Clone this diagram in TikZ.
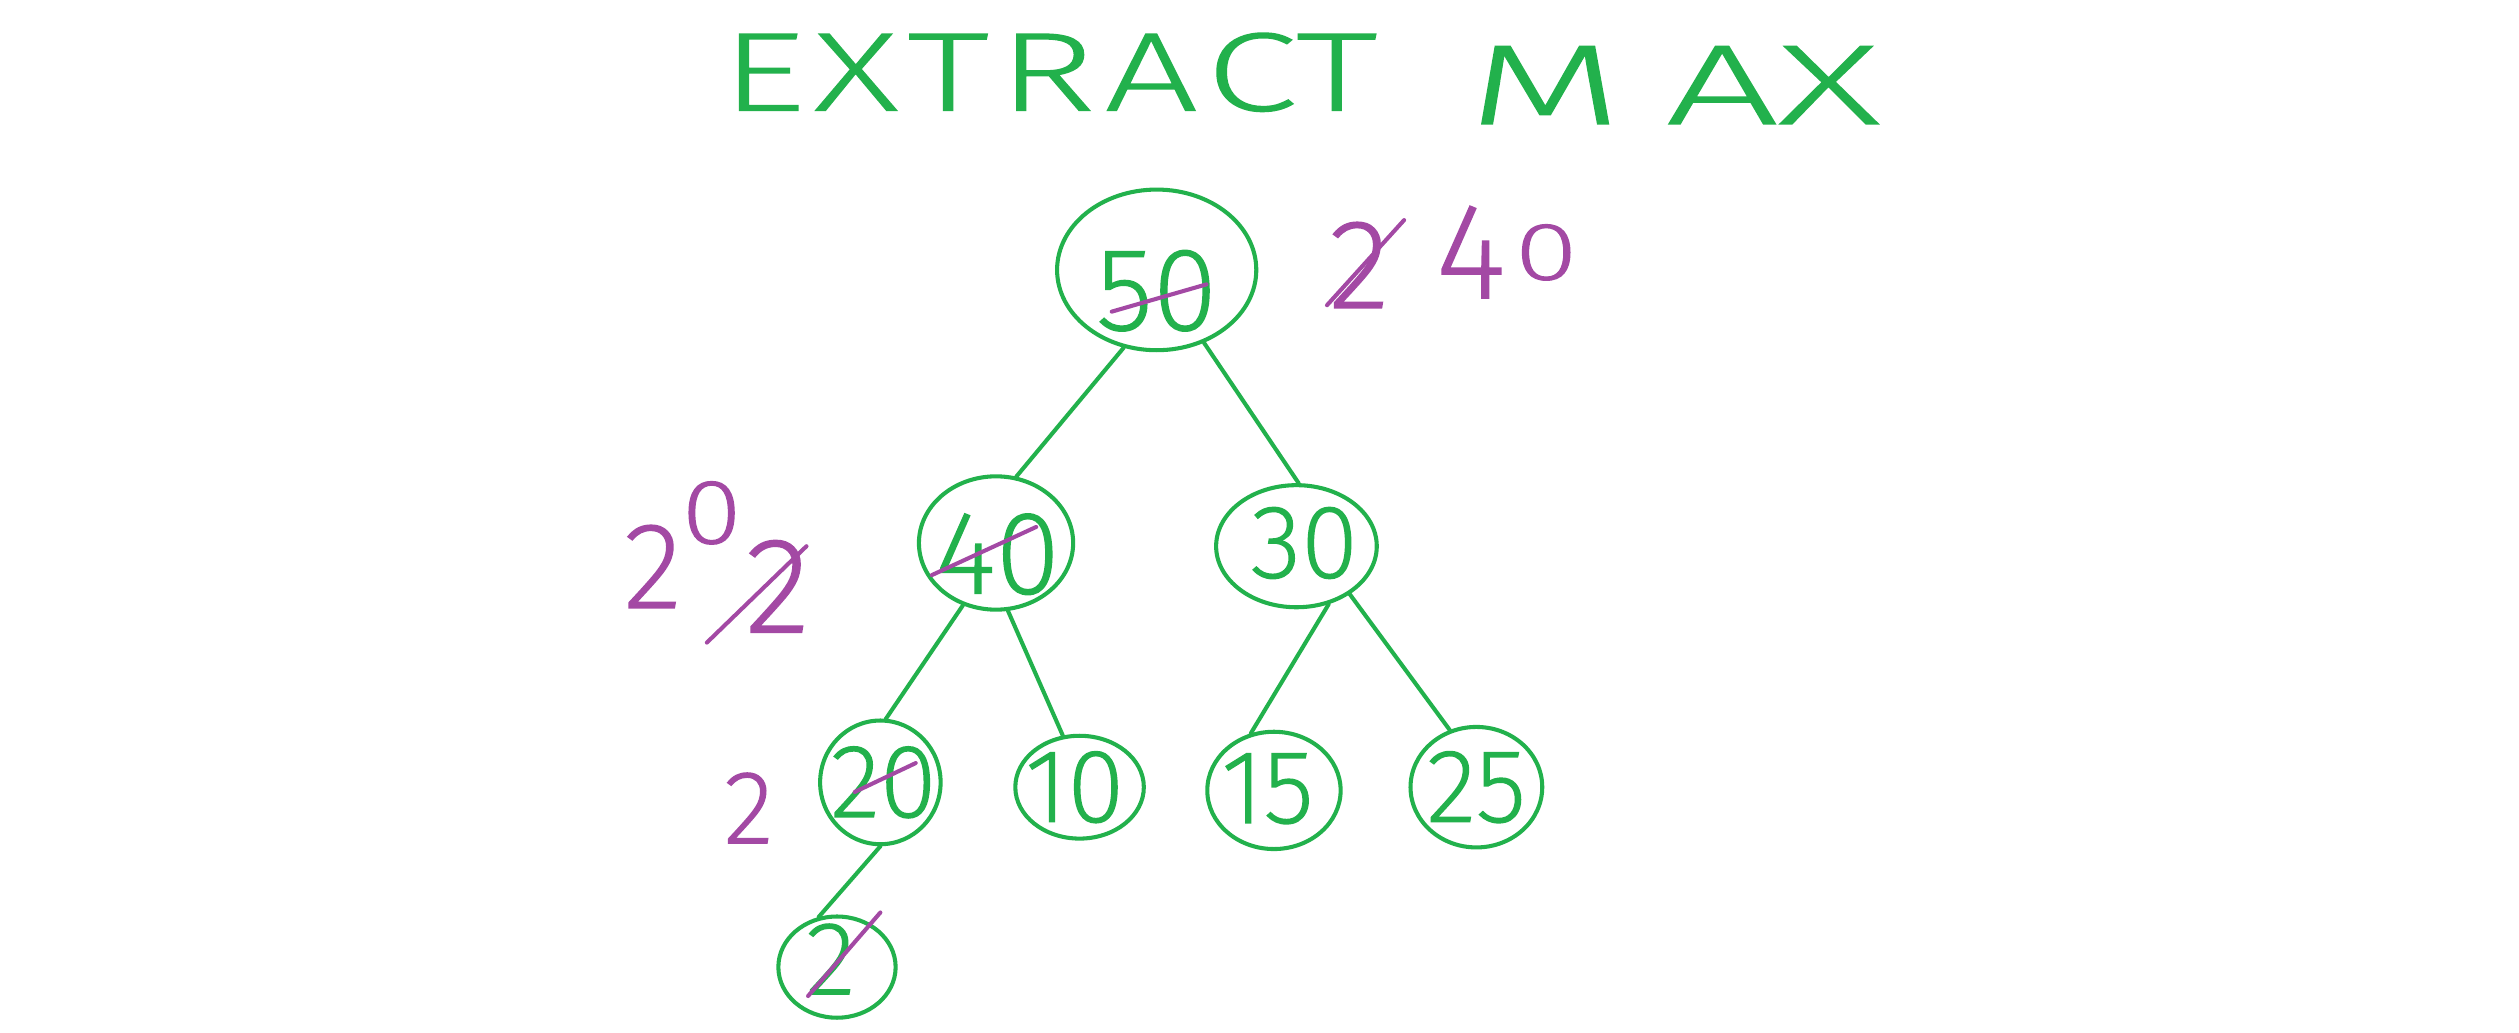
\documentclass[tikz,border=0pt]{standalone}
\usepackage{fontspec}
\setmainfont{Fira Sans ExtraLight}[FakeBold=1.5]
\usetikzlibrary{shapes.geometric}
\definecolor{penGreen}{RGB}{34,177,76}
\definecolor{penPurple}{RGB}{163,73,164}
\newcommand{\digitfont}{\fontsize{46}{46}\selectfont}
\newcommand{\notefont}{\fontsize{54}{54}\selectfont}
% a smaller zero, lifted by #1 and scaled by #2 (wide) and #3 (high)
\newcommand{\smallzero}[3]{\raisebox{#1}{\scalebox{#2}[#3]{0}}}
\begin{document}
\begin{tikzpicture}[x=0.025cm,y=-0.025cm,
  heapnode/.style={ellipse,draw=penGreen,line width=1.8pt,inner sep=0pt},
  nodesize/.style n args={2}{minimum width=#1*0.025cm,minimum height=#2*0.025cm},
  digit/.style={text=penGreen,font=\digitfont,inner sep=0pt},
  link/.style={draw=penGreen,line width=1.8pt,line cap=round},
  strike/.style={draw=penPurple,line width=1.8pt,line cap=round},
  note/.style={text=penPurple,font=\notefont,inner sep=0pt},
  heading/.style={text=penGreen,inner sep=0pt,font=\fontsize{48}{48}\selectfont}]
\fill[white] (0,0) rectangle (1568,643);
\useasboundingbox (0,0) rectangle (1568,643);

% title
\node[heading] (title1) at (653,45)
  {\resizebox{10.2cm}{1.2cm}{\addfontfeature{LetterSpace=6}EXTRAC\addfontfeature{LetterSpace=0}T}};
\node[heading] (title2) at (1042,53)
  {\resizebox{6.4cm}{1.2cm}{\addfontfeature{LetterSpace=22}MA\addfontfeature{LetterSpace=0}X}};

% heap nodes
\node[heapnode,nodesize={124}{100}] (n50) at (720,168) {};
\node[heapnode,nodesize={96}{83}]  (n40) at (620,338) {};
\node[heapnode,nodesize={100}{76}] (n30) at (807,340) {};
\node[heapnode,nodesize={75}{77}]  (n20) at (548,487) {};
\node[heapnode,nodesize={80}{64}]  (n10) at (672,490) {};
\node[heapnode,nodesize={83}{73}]  (n15) at (793,492) {};
\node[heapnode,nodesize={82}{75}]  (n25) at (919,490) {};
\node[heapnode,nodesize={73}{63}]  (n2)  at (521,602) {};

% keys inside the nodes
\node[digit,font=\fontsize{52}{52}\selectfont] (t50) at (720,181) {50};
\node[digit,font=\fontsize{52}{52}\selectfont] (t40) at (621,345) {40};
\node[digit] (t30) at (812,338) {30};
\node[digit] (t20) at (550,487) {20};
\node[digit] (t10) at (669,490) {10};
\node[digit] (t15) at (789,491) {15};
\node[digit] (t25) at (919,490) {25};
\node[digit] (t2)  at (517,597) {2};

% tree edges
\draw[link] (n50.-113) -- (n40.73);
\draw[link] (n50.-57)  -- (n30.88);
\draw[link] (n40.-118) -- (n20.85);
\draw[link] (n40.-80)  -- (n10.108);
\draw[link] (n30.-61)  -- (n15.112);
\draw[link] (n30.-42)  -- (n25.115);
\draw[link] (n20.-90)  -- (n2.110);

% crossed-out keys
\draw[strike] ([shift={(-28,26)}]n50.center) -- ([shift={(31,9)}]n50.center);
\draw[strike] ([shift={(-40,20)}]n40.center) -- ([shift={(25,-10)}]n40.center);
\draw[strike] ([shift={(-16,6)}]n20.center) -- ([shift={(22,-12)}]n20.center);
\draw[strike] ([shift={(-18,18)}]n2.center) -- ([shift={(27,-34)}]n2.center);

% new keys written beside the nodes
\node[note,font=\fontsize{56}{56}\selectfont] (r2) at (846,165) {2};
\draw[strike] ([shift={(-20,25)}]r2.center) -- ([shift={(28,-28)}]r2.center);
\node[note,font=\fontsize{60}{60}\selectfont] (r40) at (938,157)
  {4\hspace{4pt}\smallzero{8.2pt}{0.85}{0.6}};

\node[note] (l20) at (425,339) {2\smallzero{28.5pt}{0.9}{0.75}};
\node[note,font=\fontsize{60}{60}\selectfont] (l2) at (484,365) {2};
\draw[strike] ([shift={(-44,35)}]l2.center) -- ([shift={(18,-25)}]l2.center);

\node[note,font=\digitfont] (b2) at (466,503) {2};
\end{tikzpicture}
\end{document}
